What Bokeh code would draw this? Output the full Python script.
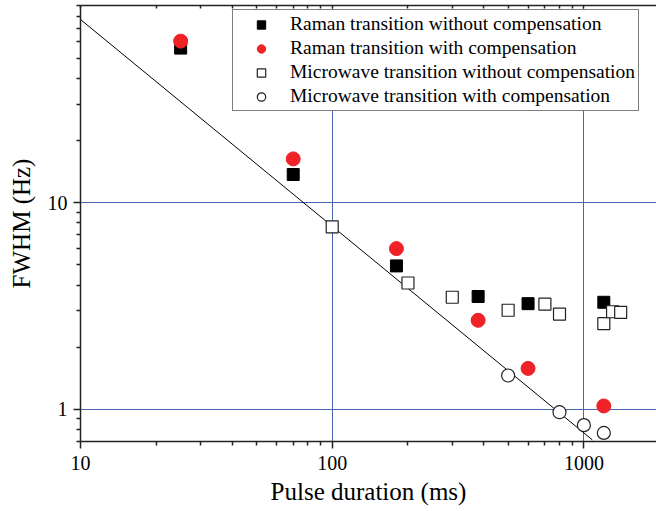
from bokeh.plotting import figure
from bokeh.models import LogAxis, FixedTicker, Legend, LegendItem, Range1d, BasicTickFormatter
from bokeh.embed import file_html
from bokeh.resources import INLINE

# Data
raman_nc_x = [25, 70, 180, 380, 600, 1200]
raman_nc_y = [56.0, 13.7, 4.95, 3.52, 3.25, 3.30]
raman_c_x = [25, 70, 180, 380, 600, 1200]
raman_c_y = [60.5, 16.3, 6.0, 2.70, 1.58, 1.04]
mw_nc_x = [100, 200, 300, 500, 700, 800, 1200, 1300, 1400]
mw_nc_y = [7.65, 4.09, 3.49, 3.02, 3.23, 2.89, 2.60, 2.97, 2.95]
mw_c_x = [500, 800, 1000, 1200]
mw_c_y = [1.46, 0.97, 0.84, 0.77]
fit_x = [10, 1080]
fit_y = [77.0, 0.713]

labels = ["Raman transition without compensation",
          "Raman transition with compensation",
          "Microwave transition without compensation",
          "Microwave transition with compensation"]
x_major = [10, 100, 1000]
y_major = [1, 10]

FONT = "Liberation Serif"
AX = "#222222"
GRID = "#4d66b3"

p = figure(width=656, height=511, x_axis_type="log", y_axis_type="log",
           x_range=Range1d(10, 1943), y_range=Range1d(0.7, 90),
           output_backend="svg", toolbar_location=None,
           min_border_left=80, min_border_right=0, min_border_top=5,
           min_border_bottom=70)
p.outline_line_color = None
p.background_fill_color = "white"
p.border_fill_color = "white"

x_minor = [m * d for d in [10, 100, 1000] for m in range(2, 10) if m * d <= 1943]
y_minor = [round(m * d, 3) for d in [0.1, 1, 10] for m in range(2, 10) if 0.7 <= m * d <= 90]

xt = FixedTicker(ticks=x_major, minor_ticks=x_minor)
yt = FixedTicker(ticks=y_major, minor_ticks=y_minor)

xa = p.xaxis[0]
ya = p.yaxis[0]
xa.ticker = xt
ya.ticker = yt
xa.formatter = BasicTickFormatter()
ya.formatter = BasicTickFormatter()
for ax in (xa, ya):
    ax.axis_line_color = AX
    ax.axis_line_width = 1.5
    ax.major_tick_line_color = AX
    ax.minor_tick_line_color = AX
    ax.major_tick_line_width = 1.5
    ax.minor_tick_line_width = 1.5
    ax.major_tick_in = 0
    ax.major_tick_out = 7
    ax.minor_tick_in = 0
    ax.minor_tick_out = 4
    ax.major_label_text_font = FONT
    ax.major_label_text_font_size = "20px"
    ax.major_label_text_color = "black"
    ax.axis_label_text_font = FONT
    ax.axis_label_text_font_size = "25px"
    ax.axis_label_text_font_style = "normal"
    ax.axis_label_text_color = "black"
xa.axis_label = "Pulse duration (ms)"
ya.axis_label = "FWHM (Hz)"
xa.major_label_standoff = 7
xa.axis_label_standoff = 5
ya.major_label_standoff = 6
ya.axis_label_standoff = 10

top = LogAxis(ticker=FixedTicker(ticks=[], minor_ticks=x_major + x_minor))
top.axis_line_color = AX
top.axis_line_width = 1.5
top.minor_tick_line_color = AX
top.minor_tick_line_width = 1.5
top.minor_tick_in = 3
top.minor_tick_out = 0
top.major_label_standoff = 0
p.add_layout(top, "above")

p.xgrid.ticker = xt
p.ygrid.ticker = yt
for g in (p.xgrid[0], p.ygrid[0]):
    g.grid_line_color = GRID
    g.grid_line_width = 1
    g.minor_grid_line_color = None

p.line(fit_x, fit_y, line_color="black", line_width=1)

r1 = p.scatter(raman_nc_x, raman_nc_y, marker="square", size=12,
               fill_color="black", line_color="black")
r2 = p.scatter(raman_c_x, raman_c_y, marker="circle", size=14,
               fill_color="#ee2227", line_color="#ee2227")
r3 = p.scatter(mw_nc_x, mw_nc_y, marker="square", size=12,
               fill_color="white", line_color="#222222", line_width=1.2)
r4 = p.scatter(mw_c_x, mw_c_y, marker="circle", size=13,
               fill_color="white", line_color="#222222", line_width=1.2)

legend = Legend(items=[LegendItem(label=l, renderers=[r]) for l, r in zip(labels, [r1, r2, r3, r4])],
                location=(152, 330))
legend.label_text_font = FONT
legend.label_text_font_size = "19.5px"
legend.label_text_color = "black"
legend.border_line_color = "black"
legend.border_line_width = 1
legend.background_fill_color = "white"
legend.background_fill_alpha = 1
legend.padding = 3
legend.spacing = 2
legend.margin = 0
legend.glyph_width = 50
legend.glyph_height = 21
legend.label_height = 21
legend.label_standoff = 4
p.add_layout(legend, "center")

open("out.html", "w").write(file_html(p, INLINE))
